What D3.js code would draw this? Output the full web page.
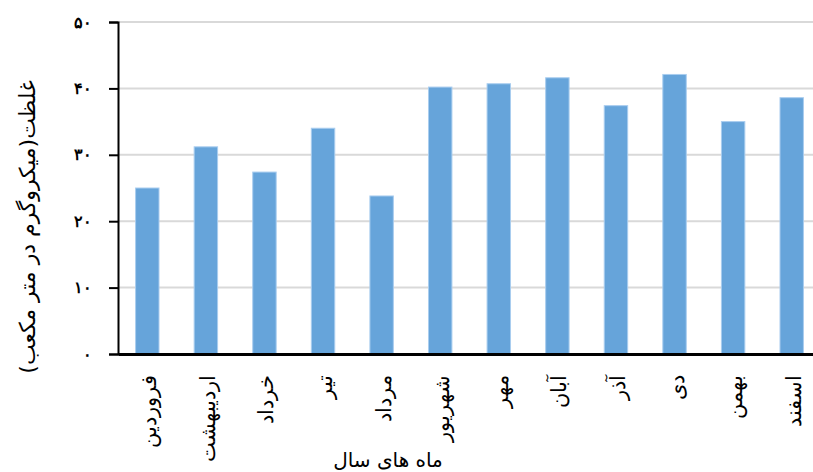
<!DOCTYPE html>
<html>
<head>
<meta charset="utf-8">
<script src="https://cdn.jsdelivr.net/npm/d3@7"></script>
<style>
  body { margin: 0; background: #fff; }
  svg { display: block; font-family: "DejaVu Sans", sans-serif; }
</style>
</head>
<body>
<svg id="chart"></svg>
<script>
const months = ['فروردین', 'اردیبهشت', 'خرداد', 'تیر', 'مرداد', 'شهریور',
  'مهر', 'آبان', 'آذر', 'دی', 'بهمن', 'اسفند'];
const values = [25.0, 31.2, 27.4, 34.0, 23.8, 40.2, 40.7, 41.6, 37.4, 42.1, 35.0, 38.6];
const yTicks = [0, 10, 20, 30, 40, 50];
const yTitle = 'غلظت(میکروگرم در متر مکعب)';
const xTitle = 'ماه های سال';

const width = 813;
const height = 472;
const margin = {top: 22, right: -8, bottom: 118, left: 118};

const toPersian = n => String(n).replace(/\d/g, d => '۰۱۲۳۴۵۶۷۸۹'[d]);

const x = d3.scaleBand()
  .domain(months)
  .range([margin.left, width - margin.right])
  .paddingInner(0.6)
  .paddingOuter(0.3);

const y = d3.scaleLinear()
  .domain([0, 50])
  .range([height - margin.bottom, margin.top]);

const chart = d3.select('#chart')
  .attr('width', width)
  .attr('height', height);

// gridlines
chart.append('g')
  .selectAll('line')
  .data(yTicks.slice(1))
  .enter()
  .append('line')
  .attr('x1', margin.left)
  .attr('x2', width - margin.right)
  .attr('y1', d => y(d))
  .attr('y2', d => y(d))
  .attr('stroke', '#d9d9d9')
  .attr('stroke-width', 2);

chart.append('g')
  .selectAll('rect')
  .data(values)
  .enter()
  .append('rect')
  .attr('x', (d, i) => x(months[i]))
  .attr('width', x.bandwidth())
  .attr('y', d => y(d))
  .attr('height', d => y(0) - y(d))
  .attr('fill', '#66a4da')
  .attr('stroke', '#a9cdef')
  .attr('stroke-width', 1);

const yAxis = chart.append('g')
  .attr('transform', `translate(${margin.left}, 0)`)
  .call(d3.axisLeft(y).tickValues(yTicks).tickSize(9).tickPadding(17)
    .tickFormat(toPersian));
yAxis.select('.domain').attr('stroke', '#000').attr('stroke-width', 2);
yAxis.selectAll('.tick line').attr('stroke', '#000').attr('stroke-width', 2);
yAxis.selectAll('.tick text')
  .attr('font-size', 16)
  .attr('font-weight', 'bold')
  .attr('fill', '#000');

const xAxis = chart.append('g')
  .attr('transform', `translate(0, ${y(0)})`)
  .call(d3.axisBottom(x).tickSize(0).tickPadding(0));
xAxis.select('.domain').attr('stroke', '#000').attr('stroke-width', 3);
xAxis.selectAll('.tick text')
  .attr('font-size', 21)
  .attr('fill', '#000')
  .attr('text-anchor', 'end')
  .attr('transform', 'translate(9, 21) rotate(-90)')
  .attr('x', 0)
  .attr('y', 0)
  .attr('dy', '0');

chart.append('text')
  .attr('transform', 'translate(35, 227) rotate(-90)')
  .attr('text-anchor', 'middle')
  .attr('font-size', 22)
  .attr('fill', '#000')
  .text(yTitle);

chart.append('text')
  .attr('x', 388)
  .attr('y', 467)
  .attr('text-anchor', 'middle')
  .attr('font-size', 20)
  .attr('fill', '#000')
  .text(xTitle);
</script>
</body>
</html>
